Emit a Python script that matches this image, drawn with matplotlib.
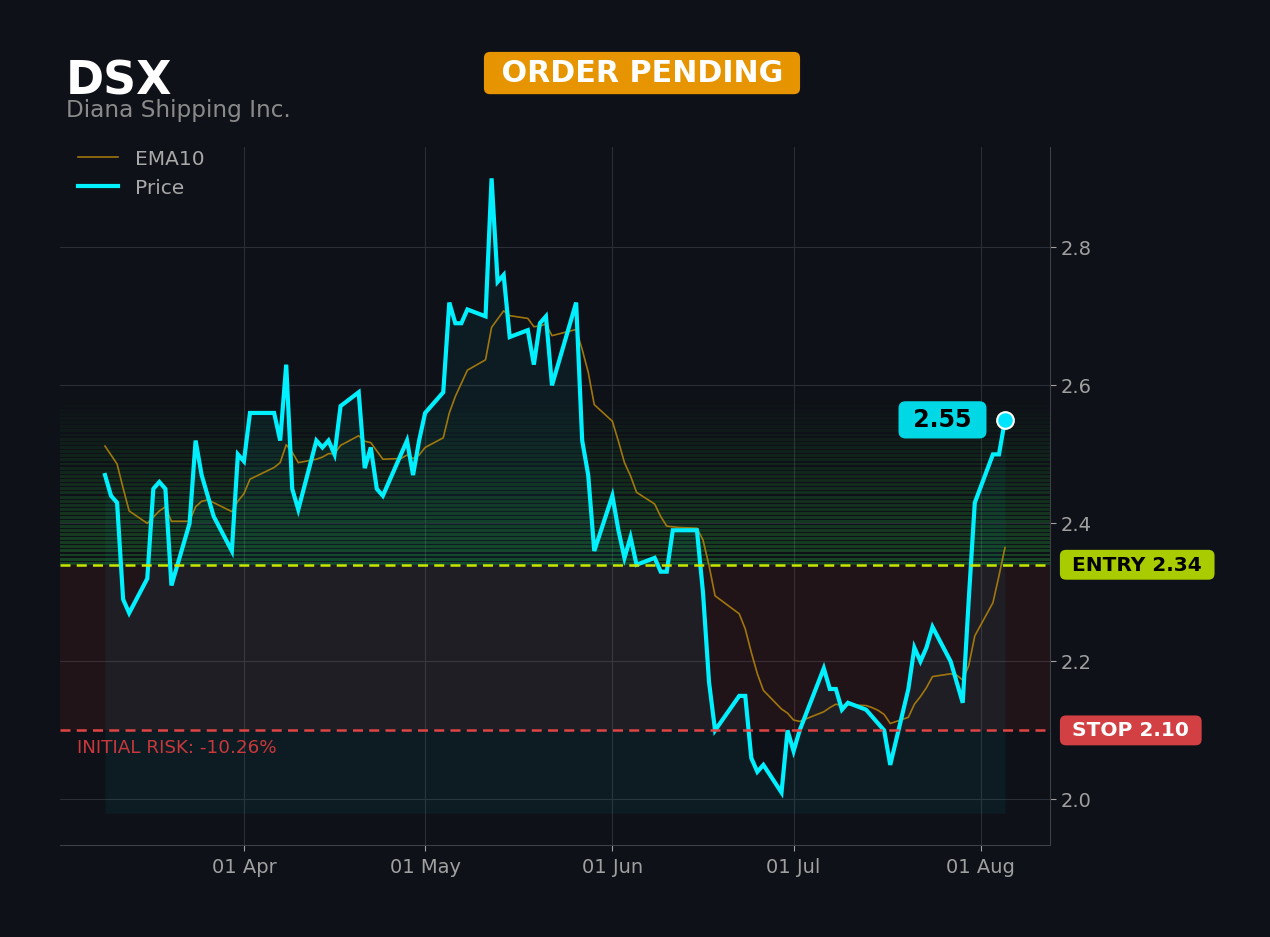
import pandas as pd
import matplotlib
matplotlib.use("Agg")
import matplotlib.pyplot as plt
import matplotlib.dates as mdates
import matplotlib.transforms as mtransforms
from matplotlib.ticker import MultipleLocator, FormatStrFormatter

# --- data (trading days, Mar 9 - Aug 5) ---
holidays = ["2026-04-03", "2026-05-25", "2026-06-19", "2026-07-03"]
dates = pd.bdate_range("2026-03-09", "2026-08-05")
dates = dates[~dates.isin(pd.to_datetime(holidays))]

price = [
    2.47, 2.44, 2.43, 2.29, 2.27, 2.32, 2.45, 2.46, 2.45, 2.31,
    2.40, 2.52, 2.47, 2.44, 2.41, 2.36, 2.50,
    2.49, 2.56, 2.56, 2.52, 2.63, 2.45, 2.42, 2.52, 2.51, 2.52,
    2.50, 2.57, 2.59, 2.48, 2.51, 2.45, 2.44, 2.50, 2.52, 2.47, 2.52,
    2.56, 2.59, 2.72, 2.69, 2.69, 2.71, 2.70, 2.90, 2.75, 2.76,
    2.67, 2.68, 2.63, 2.69, 2.70, 2.60, 2.72, 2.52, 2.47, 2.36,
    2.44, 2.39, 2.35, 2.38, 2.34, 2.35, 2.33, 2.33, 2.39, 2.39,
    2.39, 2.30, 2.17, 2.10, 2.15, 2.15, 2.06, 2.04, 2.05, 2.01, 2.10,
    2.07, 2.10, 2.19, 2.16, 2.16, 2.13, 2.14, 2.13, 2.12, 2.11,
    2.10, 2.05, 2.16, 2.22, 2.20, 2.22, 2.25, 2.20, 2.17, 2.14,
    2.29, 2.43,
    2.50, 2.50, 2.55,
]

ema10 = [
    2.512, 2.499, 2.486, 2.451, 2.418, 2.400, 2.409, 2.418, 2.424, 2.403,
    2.403, 2.424, 2.432, 2.434, 2.430, 2.417, 2.432,
    2.443, 2.464, 2.481, 2.488, 2.514, 2.503, 2.488, 2.493, 2.496, 2.501,
    2.501, 2.513, 2.527, 2.519, 2.517, 2.505, 2.493, 2.494, 2.499, 2.494, 2.499,
    2.510, 2.524, 2.560, 2.584, 2.603, 2.622, 2.637, 2.684, 2.696, 2.708,
    2.701, 2.697, 2.685, 2.686, 2.689, 2.672, 2.681, 2.652, 2.619, 2.572,
    2.548, 2.519, 2.488, 2.469, 2.445, 2.428, 2.410, 2.396, 2.395, 2.394,
    2.393, 2.376, 2.339, 2.295, 2.269, 2.247, 2.213, 2.182, 2.158, 2.131, 2.125,
    2.115, 2.113, 2.127, 2.133, 2.138, 2.136, 2.137, 2.136, 2.133, 2.129,
    2.123, 2.110, 2.119, 2.138, 2.149, 2.162, 2.178, 2.182, 2.180, 2.173,
    2.194, 2.237,
    2.285, 2.324, 2.365,
]

ticker = "DSX"
company = "Diana Shipping Inc."
status = "ORDER PENDING"
entry = 2.34
stop = 2.10
risk_pct = (stop - entry) / entry * 100
zone_top = 2.58

bg = "#0e1117"
cyan = "#00f0ff"

fig = plt.figure(figsize=(12.7, 9.375), dpi=100, facecolor=bg)
ax = fig.add_axes([60 / 1270, 1 - 845 / 937, 990 / 1270, 698 / 937])
ax.set_facecolor(bg)

# green "profit" zone as stacked fading stripes above entry
n = 40
step = (zone_top - entry) / n
for i in range(n):
    a = 0.27 * (1 - i / n)
    ax.axhspan(entry + i * step, entry + (i + 0.7) * step, color="#2ecc40", alpha=a, lw=0)

# red risk zone
ax.axhspan(stop, entry, color="#ff3b3b", alpha=0.08, lw=0)

ax.fill_between(dates, price, 1.98, color="#00e5ff", alpha=0.05, lw=0)
ax.plot(dates, ema10, color="#b8860b", lw=1.2, alpha=0.85, label="EMA10")
ax.plot(dates, price, color=cyan, lw=3, label="Price", solid_joinstyle="miter")

ax.axhline(entry, color="#c8e600", lw=1.8, ls=(0, (4, 2.5)))
ax.axhline(stop, color="#e04444", lw=1.8, ls=(0, (4, 2.5)))

trans = mtransforms.blended_transform_factory(ax.transAxes, ax.transData)
ax.text(1.0155, entry, " ENTRY %.2f " % entry, transform=trans, ha="left", va="center",
        fontsize=14.5, fontweight="bold", color="black",
        bbox=dict(boxstyle="round,pad=0.27,rounding_size=0.3", fc="#a8cc00", ec="none"))
ax.text(1.0155, stop, " STOP %.2f " % stop, transform=trans, ha="left", va="center",
        fontsize=14.5, fontweight="bold", color="white",
        bbox=dict(boxstyle="round,pad=0.27,rounding_size=0.3", fc="#d24044", ec="none"))
ax.text(0.017, 2.075, "INITIAL RISK: %.2f%%" % risk_pct, transform=trans,
        ha="left", va="center", fontsize=13.2, color="#c8383c")

# last price marker + label
ax.plot(dates[-1], price[-1], "o", ms=12, mfc="#00e5ff", mec="white", mew=1.5, zorder=5)
ax.annotate(" %.2f " % price[-1], xy=(dates[-1], price[-1]), xytext=(-45, 0),
            textcoords="offset points", ha="center", va="center",
            fontsize=17, fontweight="bold", color="black",
            bbox=dict(boxstyle="round,pad=0.28,rounding_size=0.3", fc="#00d8e6", ec="none"))

ax.grid(True, color="#2a2e36", lw=0.8)
ax.set_axisbelow(True)
ax.yaxis.tick_right()
ax.yaxis.set_major_locator(MultipleLocator(0.2))
ax.yaxis.set_major_formatter(FormatStrFormatter("%.1f"))
ax.xaxis.set_major_locator(mdates.MonthLocator())
ax.xaxis.set_major_formatter(mdates.DateFormatter("%d %b"))
ax.tick_params(colors="#a0a0a0", labelsize=14, length=4)
ax.tick_params(axis="x", pad=5)
for s in ["top", "left"]:
    ax.spines[s].set_visible(False)
for s in ["right", "bottom"]:
    ax.spines[s].set_color("#3c3f46")

leg = ax.legend(loc="upper left", bbox_to_anchor=(0.0, 1.022), frameon=False,
                fontsize=14.5, labelcolor="#a8a8a8", labelspacing=0.5)

fig.text(66 / 1270, 1 - 94 / 937, ticker, fontsize=33, fontweight="bold", color="white", va="baseline")
fig.text(66 / 1270, 1 - 116.5 / 937, company, fontsize=16.7, color="#8a8a8a", va="baseline")
fig.text(642 / 1270, 1 - 73.5 / 937, " " + status + " ", fontsize=21.7, fontweight="bold", color="white",
         ha="center", va="center",
         bbox=dict(boxstyle="round,pad=0.22,rounding_size=0.2", fc="#e69500", ec="none"))

fig.savefig("out.png", dpi=100, facecolor=bg)
